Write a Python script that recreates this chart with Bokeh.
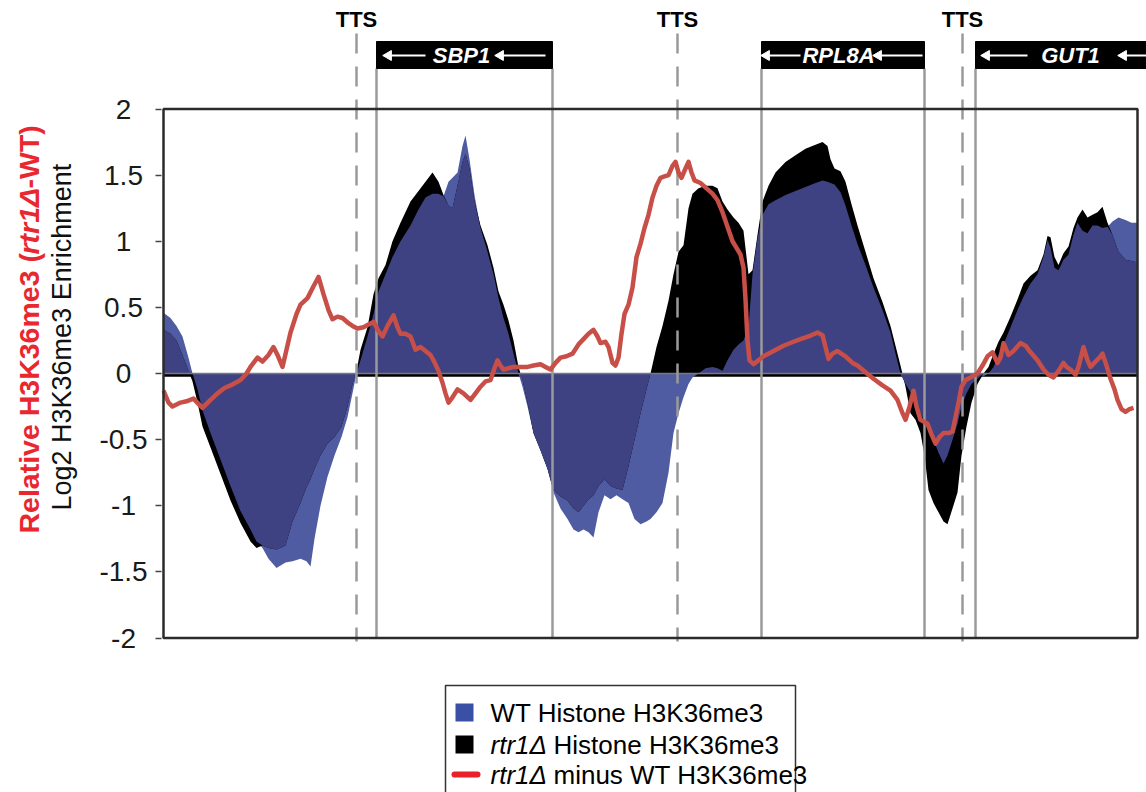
import numpy as np
from bokeh.plotting import figure
from bokeh.layouts import row
from bokeh.models import FixedTicker
from bokeh.embed import file_html
from bokeh.resources import INLINE
from bokeh.core.properties import value

# ---------------- data (positions along the locus, arbitrary units) ----------------
pos = [163, 170, 176, 182, 188, 192, 197, 202, 210, 220, 230, 240, 250, 256, 262, 268, 276, 285,
       292, 300, 306, 310, 314, 320, 327, 334, 341, 347, 352, 356, 360, 367, 373, 378, 385, 392,
       400, 410, 418, 425, 432, 438, 443, 448, 452, 457, 462, 465, 469, 474, 480, 487, 493, 498,
       503, 508, 513, 518, 522, 527, 533, 540, 547, 553, 560, 567, 573, 578, 583, 588, 593, 598,
       604, 610, 616, 622, 628, 634, 640, 646, 650, 656, 662, 668, 673, 678, 683, 688, 692, 698,
       705, 712, 717, 722, 727, 733, 738, 743, 748, 752, 757, 762, 768, 775, 785, 795, 805, 815,
       822, 827, 830, 834, 840, 845, 851, 857, 865, 873, 882, 890, 896, 900, 905, 910, 915, 920,
       924, 928, 933, 938, 943, 947, 952, 957, 961, 966, 971, 977, 983, 988, 993, 998, 1003, 1010,
       1017, 1023, 1030, 1037, 1043, 1047, 1050, 1054, 1058, 1063, 1068, 1073, 1077, 1082, 1087,
       1092, 1097, 1102, 1107, 1112, 1118, 1125, 1131, 1137]
wt = [0.46, 0.42, 0.36, 0.28, 0.12, 0.00, -0.12, -0.28, -0.45, -0.65, -0.85, -1.04, -1.18, -1.27,
      -1.32, -1.40, -1.47, -1.43, -1.42, -1.40, -1.42, -1.46, -1.25, -1.00, -0.78, -0.62, -0.48,
      -0.33, -0.15, 0.00, 0.10, 0.28, 0.45, 0.62, 0.75, 0.88, 1.00, 1.12, 1.24, 1.33, 1.36, 1.36,
      1.34, 1.45, 1.48, 1.52, 1.72, 1.80, 1.62, 1.35, 1.10, 0.92, 0.75, 0.57, 0.42, 0.30, 0.15,
      0.00, -0.10, -0.25, -0.45, -0.58, -0.72, -0.90, -1.02, -1.10, -1.18, -1.20, -1.18, -1.20,
      -1.24, -1.05, -0.92, -0.95, -0.92, -0.95, -0.98, -1.10, -1.14, -1.12, -1.10, -1.05, -0.98,
      -0.75, -0.45, -0.30, -0.18, -0.08, -0.03, 0.00, 0.04, 0.05, 0.04, 0.02, 0.10, 0.18, 0.22,
      0.25, 0.35, 0.75, 1.02, 1.20, 1.28, 1.31, 1.35, 1.38, 1.41, 1.44, 1.46, 1.45, 1.44, 1.43,
      1.37, 1.27, 1.12, 0.98, 0.82, 0.65, 0.48, 0.31, 0.12, 0.00, -0.08, -0.14, -0.22, -0.30,
      -0.36, -0.42, -0.50, -0.60, -0.68, -0.62, -0.50, -0.38, -0.25, -0.15, -0.08, -0.04, -0.02,
      0.00, 0.05, 0.14, 0.22, 0.35, 0.48, 0.58, 0.68, 0.75, 0.88, 1.01, 0.95, 0.80, 0.78, 0.86,
      0.90, 1.05, 1.14, 1.08, 1.06, 1.12, 1.12, 1.10, 1.11, 1.15, 1.18, 1.16, 1.14, 1.14]
rtr1 = [0.33, 0.30, 0.25, 0.14, 0.02, -0.06, -0.22, -0.40, -0.56, -0.76, -0.96, -1.13, -1.27, -1.32,
        -1.30, -1.32, -1.33, -1.30, -1.12, -0.98, -0.86, -0.80, -0.72, -0.62, -0.53, -0.48, -0.40,
        -0.25, -0.08, 0.02, 0.18, 0.35, 0.60, 0.72, 0.82, 1.00, 1.14, 1.30, 1.38, 1.45, 1.52, 1.45,
        1.35, 1.27, 1.25, 1.42, 1.60, 1.66, 1.55, 1.30, 1.12, 0.97, 0.80, 0.62, 0.52, 0.40, 0.25,
        0.05, -0.05, -0.22, -0.45, -0.58, -0.72, -0.88, -0.93, -0.96, -1.02, -1.05, -1.00, -0.95,
        -0.92, -0.85, -0.80, -0.85, -0.87, -0.88, -0.70, -0.50, -0.30, -0.12, 0.00, 0.20, 0.36,
        0.55, 0.75, 0.92, 0.97, 1.25, 1.36, 1.40, 1.42, 1.42, 1.40, 1.30, 1.24, 1.18, 1.14, 1.08,
        0.75, 0.78, 1.05, 1.30, 1.42, 1.52, 1.60, 1.65, 1.70, 1.73, 1.75, 1.72, 1.62, 1.55, 1.53,
        1.45, 1.28, 1.12, 0.92, 0.72, 0.54, 0.36, 0.18, 0.06, -0.10, -0.30, -0.35, -0.45, -0.62,
        -0.88, -0.98, -1.05, -1.12, -1.14, -1.02, -0.90, -0.62, -0.40, -0.22, -0.08, 0.00, 0.05,
        0.15, 0.24, 0.31, 0.43, 0.56, 0.68, 0.74, 0.78, 0.90, 1.04, 1.03, 0.88, 0.82, 0.91, 0.96,
        1.10, 1.18, 1.24, 1.18, 1.20, 1.22, 1.26, 1.14, 1.05, 0.92, 0.86, 0.85, 0.84]

diff_pos = [163, 168, 172, 180, 186, 193, 198, 202, 210, 217, 224, 230, 240, 246, 250, 257, 262,
            268, 273, 277, 282, 290, 296, 300, 307, 313, 318, 323, 328, 332, 337, 342, 348, 352,
            357, 363, 368, 373, 378, 382, 387, 393, 397, 400, 405, 410, 415, 420, 425, 430, 433,
            438, 442, 445, 448, 452, 457, 463, 470, 475, 480, 485, 490, 494, 497, 500, 503, 508,
            513, 520, 527, 533, 540, 545, 550, 555, 560, 566, 572, 578, 583, 588, 593, 597, 600,
            605, 608, 612, 615, 618, 621, 624, 628, 632, 636, 640, 644, 648, 652, 656, 660, 664,
            668, 672, 675, 678, 681, 685, 688, 691, 694, 700, 706, 712, 717, 722, 727, 732, 736,
            740, 743, 745, 747, 749, 753, 758, 763, 773, 783, 793, 800, 808, 817, 822, 825, 828,
            832, 837, 845, 852, 857, 865, 873, 882, 890, 897, 902, 905, 909, 913, 916, 920, 927,
            931, 935, 939, 943, 948, 952, 955, 958, 961, 965, 970, 977, 982, 987, 992, 997, 1000,
            1003, 1008, 1013, 1020, 1025, 1030, 1037, 1043, 1048, 1053, 1058, 1063, 1066, 1070,
            1075, 1078, 1083, 1087, 1090, 1095, 1099, 1102, 1106, 1110, 1114, 1117, 1121, 1125,
            1129, 1133]
diff = [-0.13, -0.22, -0.25, -0.22, -0.21, -0.19, -0.23, -0.26, -0.20, -0.15, -0.11, -0.09, -0.05,
        0.00, 0.05, 0.12, 0.09, 0.14, 0.20, 0.14, 0.05, 0.31, 0.45, 0.52, 0.57, 0.66, 0.73, 0.60,
        0.48, 0.41, 0.43, 0.42, 0.38, 0.36, 0.34, 0.35, 0.37, 0.39, 0.32, 0.28, 0.36, 0.44, 0.35,
        0.30, 0.30, 0.28, 0.18, 0.20, 0.17, 0.14, 0.10, 0.02, -0.07, -0.15, -0.22, -0.18, -0.12,
        -0.15, -0.20, -0.15, -0.10, -0.06, -0.05, 0.04, 0.10, 0.06, 0.03, 0.04, 0.05, 0.05, 0.05,
        0.06, 0.07, 0.05, 0.03, 0.08, 0.12, 0.13, 0.15, 0.22, 0.26, 0.30, 0.33, 0.28, 0.23, 0.24,
        0.20, 0.08, 0.06, 0.12, 0.30, 0.45, 0.52, 0.65, 0.88, 0.98, 1.10, 1.20, 1.33, 1.42, 1.48,
        1.49, 1.50, 1.57, 1.60, 1.52, 1.48, 1.55, 1.60, 1.52, 1.46, 1.44, 1.40, 1.36, 1.31, 1.22,
        1.11, 1.00, 0.95, 0.90, 0.80, 0.56, 0.25, 0.10, 0.07, 0.10, 0.13, 0.17, 0.21, 0.24, 0.26,
        0.28, 0.31, 0.29, 0.20, 0.11, 0.15, 0.17, 0.13, 0.08, 0.06, 0.01, -0.04, -0.09, -0.13,
        -0.20, -0.30, -0.35, -0.25, -0.13, -0.25, -0.35, -0.38, -0.46, -0.53, -0.48, -0.45, -0.45,
        -0.44, -0.33, -0.22, -0.10, -0.05, -0.03, 0.00, 0.06, 0.13, 0.16, 0.08, 0.12, 0.23, 0.14,
        0.17, 0.23, 0.21, 0.16, 0.10, 0.03, -0.01, -0.03, 0.02, 0.08, 0.05, 0.03, -0.01, 0.05,
        0.20, 0.10, 0.05, 0.09, 0.12, 0.15, 0.06, -0.04, -0.12, -0.20, -0.27, -0.29, -0.27, -0.26]

yticks = [-2, -1.5, -1, -0.5, 0, 0.5, 1, 1.5, 2]
ytick_labels = ["-2", "-1.5", "-1", "-0.5", "0", "0.5", "1", "1.5", "2"]

genes = ["SBP1", "RPL8A", "GUT1"]
gene_start = [376, 761, 975]
gene_end = [552, 924, 1165]
tts_pos = [356, 677, 962]

# ---------------- styling ----------------
FONT = "Liberation Sans"
WT_COL = "#505ca2"
OV_COL = "#3e4282"
RED = "#c84e48"
GREY = "#9a9a9a"

W, H = 1146, 792
STRIP_W = 150
PX = 132.25  # pixels per y unit


def yv(page_y):
    """vertical layout helper: page pixel row -> data value"""
    return (373 - page_y) / PX


YR = (yv(H), yv(0))

# ---------- left strip: y-axis titles and tick labels ----------
t = figure(width=STRIP_W, height=H, x_range=(0, STRIP_W), y_range=YR,
           output_backend="svg", toolbar_location=None, x_axis_location=None,
           y_axis_location=None, min_border=0)
t.outline_line_color = None
t.grid.visible = False
red_kw = dict(angle=np.pi / 2, text_align="left", text_baseline="middle",
              text_font=value(FONT), text_font_size="28.5px", text_color="#e8272e")
t.text(x=[28], y=[yv(533)], text=["Relative H3K36me3 ("], text_font_style="bold", **red_kw)
t.text(x=[28], y=[yv(254)], text=["rtr1Δ"], text_font_style="bold italic", **red_kw)
t.text(x=[28], y=[yv(188)], text=["-WT)"], text_font_style="bold", **red_kw)
t.text(x=[61], y=[yv(510)], text=["Log2 H3K36me3 Enrichment"], angle=np.pi / 2,
       text_align="left", text_baseline="middle", text_font=value(FONT),
       text_font_size="27px", text_color="#111111")
t.text(x=[123] * len(yticks), y=yticks, text=ytick_labels, text_align="center",
       text_baseline="middle", text_font=value(FONT), text_font_size="28px",
       text_color="#1a1a1a")

# ---------- main chart ----------
p = figure(width=W - STRIP_W, height=H, x_range=(161, W), y_range=YR,
           output_backend="svg", toolbar_location=None, x_axis_location=None,
           min_border_left=161 - STRIP_W, min_border_right=0, min_border_top=0,
           min_border_bottom=0)
p.outline_line_color = None
p.grid.visible = False

ax = p.yaxis[0]
ax.ticker = FixedTicker(ticks=yticks)
ax.major_label_overrides = {tk: "" for tk in yticks}
ax.major_label_standoff = 0
ax.axis_line_color = None
ax.major_tick_in = 0
ax.major_tick_out = 6
ax.major_tick_line_color = "#444444"
ax.major_tick_line_width = 1.5
ax.minor_tick_line_color = None

x = np.array(pos, dtype=float)
w = np.array(wt)
r = np.array(rtr1)
same = np.sign(w) == np.sign(r)
ov = np.where(same, np.sign(w) * np.minimum(np.abs(w), np.abs(r)), 0.0)

x0, x1 = pos[0], pos[-1]

# x axis (black) just below zero, under the areas
p.line([x0, x1], [-0.012, -0.012], line_color="black", line_width=3.5)

p.varea(x=x, y1=0, y2=w, fill_color=WT_COL)
p.varea(x=x, y1=0, y2=r, fill_color="black")
p.varea(x=x, y1=0, y2=ov, fill_color=OV_COL)

p.line([x0, x1], [0, 0], line_color="#7a7a7a", line_width=1.5)

# vertical gene / TTS lines
sol_x = gene_start + gene_end[:2]
p.segment(x0=sol_x, x1=sol_x, y0=[yv(68)] * len(sol_x), y1=[yticks[0]] * len(sol_x),
          line_color=GREY, line_width=2.5)
p.segment(x0=tts_pos, x1=tts_pos, y0=[yv(33)] * 3, y1=[yv(641)] * 3,
          line_color=GREY, line_width=2.5, line_dash="20 13")

# difference line
p.line(diff_pos, diff, line_color=RED, line_width=4.5, line_join="round")

# frame
p.quad(left=x0, right=x1, bottom=yticks[0], top=yticks[-1], fill_color=None,
       line_color="#2b2b2b", line_width=2.5)

# gene boxes
p.quad(left=gene_start, right=gene_end, bottom=[yv(68)] * 3, top=[yv(41)] * 3,
       fill_color="black", line_color="black")
lab_x = [461, 838, 1070]
p.text(x=lab_x, y=[yv(55)] * 3, text=genes, text_align="center", text_baseline="middle",
       text_font=value(FONT), text_font_size="22px", text_font_style="bold italic",
       text_color="white")
head = [385, 497, 763, 875, 983, 1120]
tail = [425, 545, 800, 922, 1027, 1150]
ay = [yv(55)] * len(head)
p.segment(x0=head, x1=tail, y0=ay, y1=ay, line_color="white", line_width=2)
p.scatter(x=[h + 3 for h in head], y=ay, marker="triangle", size=10, angle=np.pi / 2,
          fill_color="white", line_color="white")

p.text(x=tts_pos, y=[yv(19)] * 3, text=["TTS"] * 3, text_align="center",
       text_baseline="middle", text_font=value(FONT), text_font_size="22px",
       text_font_style="bold", text_color="black")

# legend (drawn)
p.quad(left=445, right=795, top=yv(685), bottom=yv(805), fill_color="white",
       line_color="#333333", line_width=1.5)
rows = [yv(712), yv(744), yv(774)]
p.rect(x=[464, 464], y=rows[:2], width=18, height=18 / PX, fill_color=["#3a4fa6", "black"],
       line_color=None)
p.line([454, 477], [rows[2], rows[2]], line_color="#e8212a", line_width=6, line_cap="round")
p.text(x=[490], y=[rows[0]], text=["WT Histone H3K36me3"], text_baseline="middle",
       text_font=value(FONT), text_font_size="26px", text_color="black")
p.text(x=[490, 490], y=rows[1:], text=["rtr1Δ", "rtr1Δ"], text_baseline="middle",
       text_font=value(FONT), text_font_size="26px", text_font_style="italic",
       text_color="black")
p.text(x=[553, 553], y=rows[1:], text=["Histone H3K36me3", "minus WT H3K36me3"],
       text_baseline="middle", text_font=value(FONT), text_font_size="26px",
       text_color="black")

layout = row(t, p, spacing=0)
open("out.html", "w").write(file_html(layout, INLINE))
